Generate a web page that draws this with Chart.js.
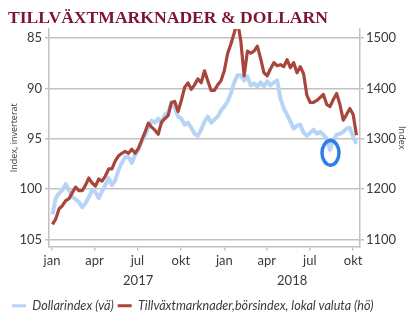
<!DOCTYPE html>
<html lang="sv">
<head>
<meta charset="utf-8">
<title>Tillväxtmarknader & dollarn</title>
<script src="https://cdn.jsdelivr.net/npm/chart.js@4.4.0/dist/chart.umd.min.js"></script>
<style>
  html, body { margin: 0; padding: 0; background: #fff; }
  #wrap { width: 416px; height: 326px; }
</style>
</head>
<body>
<div id="wrap"><canvas id="graf" width="416" height="326"></canvas></div>
<script>
// veckodata, måndagar jan 2017 - okt 2018
const veckor = [
  '2017-01-02','2017-01-09','2017-01-16','2017-01-23','2017-01-30','2017-02-06','2017-02-13','2017-02-20','2017-02-27','2017-03-06',
  '2017-03-13','2017-03-20','2017-03-27','2017-04-03','2017-04-10','2017-04-17','2017-04-24','2017-05-01','2017-05-08','2017-05-15',
  '2017-05-22','2017-05-29','2017-06-05','2017-06-12','2017-06-19','2017-06-26','2017-07-03','2017-07-10','2017-07-17','2017-07-24',
  '2017-07-31','2017-08-07','2017-08-14','2017-08-21','2017-08-28','2017-09-04','2017-09-11','2017-09-18','2017-09-25','2017-10-02',
  '2017-10-09','2017-10-16','2017-10-23','2017-10-30','2017-11-06','2017-11-13','2017-11-20','2017-11-27','2017-12-04','2017-12-11',
  '2017-12-18','2017-12-25','2018-01-01','2018-01-08','2018-01-15','2018-01-22','2018-01-29','2018-02-05','2018-02-12','2018-02-19',
  '2018-02-26','2018-03-05','2018-03-12','2018-03-19','2018-03-26','2018-04-02','2018-04-09','2018-04-16','2018-04-23','2018-04-30',
  '2018-05-07','2018-05-14','2018-05-21','2018-05-28','2018-06-04','2018-06-11','2018-06-18','2018-06-25','2018-07-02','2018-07-09',
  '2018-07-16','2018-07-23','2018-07-30','2018-08-06','2018-08-13','2018-08-20','2018-08-27','2018-09-03','2018-09-10','2018-09-17',
  '2018-09-24','2018-10-01','2018-10-08'
];

// Dollarindex (vänster axel, inverterad)
const dollarindex = [
  102.5, 100.9, 100.4, 100.1, 99.5, 100.1, 100.8, 101.0, 101.3, 101.8,
  101.4, 100.8, 100.1, 100.3, 100.9, 100.2, 99.6, 98.9, 99.6, 99.1,
  98.1, 97.4, 96.8, 96.8, 97.4, 96.6, 96.1, 95.3, 94.7, 93.9,
  93.2, 93.4, 93.0, 93.4, 92.6, 92.4, 91.4, 91.9, 92.8, 93.0,
  93.6, 93.4, 93.9, 94.5, 94.7, 94.1, 93.3, 92.8, 93.4, 93.1,
  92.8, 92.2, 91.8, 91.3, 90.5, 89.4, 88.7, 88.7, 89.2, 88.8,
  89.7, 89.5, 89.8, 89.4, 89.8, 89.3, 89.7, 89.4, 89.2, 91.0,
  92.0, 92.6, 93.3, 94.0, 93.7, 93.6, 94.4, 94.7, 94.4, 94.1,
  94.5, 94.3, 94.6, 95.0, 96.1, 95.1, 94.6, 94.5, 94.3, 94.0,
  93.9, 94.8, 95.5
];

// Tillväxtmarknader, börsindex i lokal valuta (höger axel)
const borsindex = [
  1130, 1141, 1161, 1167, 1177, 1181, 1193, 1204, 1197, 1197,
  1208, 1222, 1212, 1206, 1220, 1216, 1226, 1240, 1240, 1256,
  1266, 1271, 1275, 1271, 1279, 1271, 1281, 1297, 1313, 1331,
  1323, 1317, 1309, 1333, 1340, 1346, 1372, 1374, 1354, 1376,
  1402, 1411, 1398, 1407, 1419, 1411, 1435, 1415, 1396, 1396,
  1407, 1415, 1435, 1469, 1488, 1510, 1534, 1494, 1425, 1474,
  1470, 1474, 1484, 1459, 1431, 1425, 1439, 1451, 1445, 1447,
  1443, 1457, 1441, 1451, 1431, 1443, 1429, 1386, 1372, 1372,
  1376, 1382, 1388, 1368, 1364, 1378, 1390, 1368, 1337, 1348,
  1360, 1348, 1307
];

const manadsDatum = ['2017-01-01','2017-04-01','2017-07-01','2017-10-01','2018-01-01','2018-04-01','2018-07-01','2018-10-01'];
const manadsEtiketter = ['jan','apr','jul','okt','jan','apr','jul','okt'];
const arsDatum = ['2017-01-01','2018-01-01','2019-01-01'];
const arsEtiketter = ['2017','2018'];
const vansterTicks = [85, 90, 95, 100, 105];
const hogerTicks = [1100, 1200, 1300, 1400, 1500];

// markering runt augustidippen
const markering = { datum: '2018-08-14', varde: 96.4 };

const START = Date.UTC(2017, 0, 1);
const dag = (s) => (Date.parse(s + 'T00:00:00Z') - START) / 86400000;

const X_MIN = -6.4, X_MAX = 652.5;
const GRID = '#c2c2c2';
const TEXT = '#3a3a3a';

const dollarPunkter = veckor.map((d, i) => ({ x: dag(d), y: dollarindex[i] }));
const borsPunkter = veckor.map((d, i) => ({ x: dag(d), y: borsindex[i] }));

const ringPlugin = {
  id: 'ring',
  afterDatasetsDraw(chart) {
    const { ctx, scales } = chart;
    const cx = scales.x.getPixelForValue(dag(markering.datum));
    const cy = scales.y.getPixelForValue(markering.varde);
    ctx.save();
    ctx.strokeStyle = '#2f7de6';
    ctx.lineWidth = 3.5;
    ctx.beginPath();
    ctx.ellipse(cx, cy, 8.5, 12.3, 0, 0, Math.PI * 2);
    ctx.stroke();
    ctx.restore();
  }
};

new Chart(document.getElementById('graf'), {
  type: 'line',
  data: {
    datasets: [{
      label: 'Dollarindex (vä)',
      data: dollarPunkter,
      yAxisID: 'y',
      borderColor: '#b7d4f7',
      backgroundColor: '#b7d4f7',
      borderWidth: 4,
      pointRadius: 0,
      borderJoinStyle: 'round',
      order: 1
    }, {
      label: 'Tillväxtmarknader,börsindex, lokal valuta (hö)',
      data: borsPunkter,
      yAxisID: 'y1',
      borderColor: '#a8463c',
      backgroundColor: '#a8463c',
      borderWidth: 3.2,
      pointRadius: 0,
      borderJoinStyle: 'round',
      order: 0
    }]
  },
  options: {
    responsive: false,
    animation: false,
    devicePixelRatio: 1,
    layout: { padding: { left: 8, right: 0, top: 0, bottom: 4 } },
    plugins: {
      title: {
        display: true,
        text: 'TILLVÄXTMARKNADER & DOLLARN',
        align: 'start',
        color: '#7d1530',
        font: { family: 'Liberation Serif', size: 17.6, weight: 'bold' },
        padding: { top: 8, bottom: 0 }
      },
      legend: {
        position: 'bottom',
        align: 'start',
        labels: {
          usePointStyle: true,
          pointStyleWidth: 14,
          pointStyle: 'line',
          padding: 4,
          color: TEXT,
          font: { family: 'Lato', size: 12.6, style: 'italic' },
          sort: (a, b) => a.datasetIndex - b.datasetIndex,
          generateLabels: (chart) => Chart.defaults.plugins.legend.labels.generateLabels(chart)
            .map(l => Object.assign(l, { lineWidth: 3 }))
        }
      },
      tooltip: { enabled: false }
    },
    scales: {
      x: {
        type: 'linear',
        min: X_MIN,
        max: X_MAX,
        afterBuildTicks: (s) => { s.ticks = manadsDatum.map(d => ({ value: dag(d) })); },
        afterFit: (s) => { s.height = 26; },
        ticks: {
          autoSkip: false,
          maxRotation: 0,
          padding: 3,
          color: TEXT,
          font: { family: 'Lato', size: 13 },
          callback: (v, i) => manadsEtiketter[i]
        },
        grid: { drawOnChartArea: false, color: GRID, lineWidth: 1.5, tickLength: 4 },
        border: { color: GRID, width: 1.5 }
      },
      x2: {
        type: 'linear',
        position: 'bottom',
        weight: 1,
        min: X_MIN,
        max: X_MAX,
        afterBuildTicks: (s) => {
          s.ticks = arsEtiketter.map((a, i) => {
            const fran = Math.max(dag(arsDatum[i]), s.min);
            const till = Math.min(dag(arsDatum[i + 1]), s.max);
            return { value: (fran + till) / 2 };
          });
        },
        afterFit: (s) => { s.height = 23; },
        ticks: {
          autoSkip: false,
          maxRotation: 0,
          padding: 1,
          color: TEXT,
          font: { family: 'Lato', size: 13 },
          callback: (v, i) => arsEtiketter[i]
        },
        grid: { display: false, drawTicks: false },
        border: { display: false }
      },
      y: {
        position: 'left',
        reverse: true,
        min: 84.11,
        max: 105.69,
        afterBuildTicks: (s) => { s.ticks = vansterTicks.map(v => ({ value: v })); },
        afterFit: (s) => { s.width = 41; },
        ticks: { padding: 3, color: TEXT, font: { family: 'Lato', size: 13 }, callback: (v) => String(v) },
        grid: { color: GRID, lineWidth: 1.5, tickLength: 4 },
        border: { color: GRID, width: 1.5 },
        title: {
          display: true,
          text: 'Index, inverterat',
          color: TEXT,
          padding: 1,
          font: { family: 'Open Sans', size: 9 }
        }
      },
      y1: {
        position: 'right',
        min: 1086.2,
        max: 1517.7,
        afterBuildTicks: (s) => { s.ticks = hogerTicks.map(v => ({ value: v })); },
        afterFit: (s) => { s.width = 56; },
        ticks: { padding: 2, color: TEXT, font: { family: 'Lato', size: 13 }, callback: (v) => String(v) },
        grid: { drawOnChartArea: false, color: GRID, lineWidth: 1.5, tickLength: 4 },
        border: { color: GRID, width: 1.5 },
        title: {
          display: true,
          text: 'Index',
          color: TEXT,
          padding: 9,
          font: { family: 'Open Sans', size: 9 }
        }
      }
    }
  },
  plugins: [ringPlugin]
});
</script>
</body>
</html>
